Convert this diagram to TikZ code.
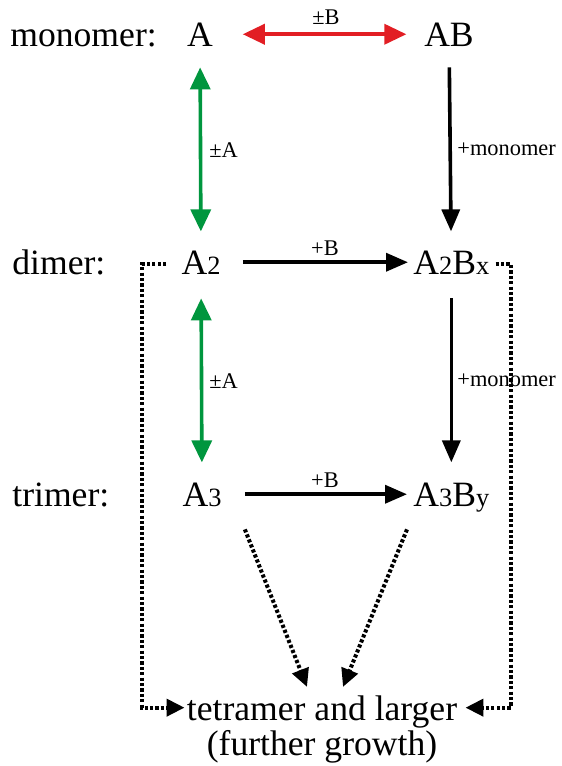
\documentclass[tikz,border=0pt]{standalone}
\usepackage{fontspec}
\setmainfont{Liberation Serif}
\definecolor{rxred}{RGB}{226,30,36}
\definecolor{rxgreen}{RGB}{0,150,62}
\usetikzlibrary{arrows.meta,positioning}
\newcommand{\smsub}[1]{{\fontsize{13.2}{13.2}\selectfont #1}}

\begin{document}
\begin{tikzpicture}[x=0.5pt, y=-0.5pt,
  species/.style={font=\fontsize{17.8}{21}\selectfont, inner sep=0pt, anchor=base, text depth=0pt},
  rate/.style={font=\fontsize{11.2}{13}\selectfont, inner sep=0pt, anchor=base},
  fwd/.style={-{Triangle[length=11pt,width=9pt]}, line width=1.8pt},
  eqm/.style={{Triangle[length=11pt,width=10pt]}-{Triangle[length=11pt,width=10pt]}, line width=1.8pt},
  dotarr/.style={-{Triangle[length=9pt,width=8.5pt]}, line width=2pt, dash pattern=on 1.6pt off 1.1pt}]
\useasboundingbox (0,0) rectangle (562,766);
% Row labels
\node[species, anchor=base west] (mono) at (10,46) {monomer:};
\node[species, anchor=base west] (dim) at (12,274) {dimer:};
\node[species, anchor=base west] (tri) at (12,506) {trimer:};
% Species
\node[species] (A) at (200,46) {A};
\node[species] (AB) at (449,46) {AB};
\node[species] (A2) at (201,274) {A\smsub{2}};
\node[species, anchor=base west] (A2Bx) at (413,274) {A\smsub{2}B\smsub{x}};
\node[species] (A3) at (202,506) {A\smsub{3}};
\node[species, anchor=base west] (A3By) at (413,506) {A\smsub{3}B\smsub{y}};
\node[species] (tetra) at (322,720) {tetramer and larger};
\node[species] (growth) at (322,755) {(further growth)};
% Reactions
\draw[eqm, rxred, shorten <=14.75pt, shorten >=8.75pt] (A) -- (AB);
\draw[eqm, rxgreen, shorten <=10.5pt, shorten >=9.35pt] (A) -- (A2);
\draw[eqm, rxgreen, shorten <=12pt, shorten >=9.85pt] (A2) -- (A3);
\draw[fwd, shorten <=10.5pt, shorten >=9.35pt] (AB) -- (A2Bx);
\draw[fwd, shorten <=12pt, shorten >=9.85pt] (A2Bx) -- (A3By);
\draw[fwd, shorten <=11pt, shorten >=2.5pt] (A2) -- (A2Bx);
\draw[fwd, shorten <=11.5pt, shorten >=3pt] (A3) -- (A3By);
% Rate labels
\node[rate] (pmB) at (326,24) {±B};
\node[rate, anchor=base west] (pmA1) at (209,157) {±A};
\node[rate, anchor=base west] (pmA2) at (209,388) {±A};
\node[rate, anchor=base west] (addm1) at (457,155) {+monomer};
\node[rate, anchor=base west] (addm2) at (457,386) {+monomer};
\node[rate] (addB1) at (325,255) {+B};
\node[rate] (addB2) at (325,487) {+B};
% Growth paths
\draw[dotarr] ([shift={(23,23)}]A3.south east) -- ([shift={(-15,-8)}]tetra.north);
\draw[dotarr] ([shift={(-6,23)}]A3By.south west) -- ([shift={(21,-8)}]tetra.north);
\draw[dotarr, shorten >=1pt] ([shift={(-15,2)}]A2.west) -- ++(-24,0) |- (tetra.west);
\draw[dotarr, shorten >=4pt] ([shift={(6,1.5)}]A2Bx.east) -- ++(15,0) |- (tetra.east);
\end{tikzpicture}
\end{document}
